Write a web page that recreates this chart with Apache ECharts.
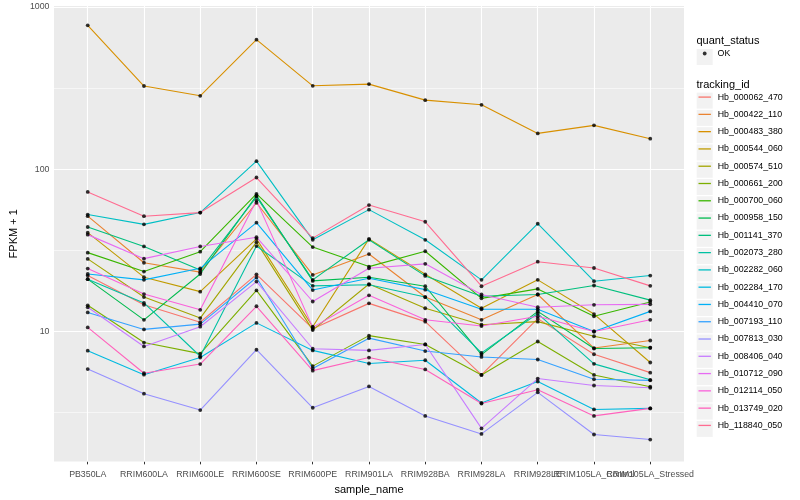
<!DOCTYPE html>
<html>
<head>
<meta charset="utf-8">
<script src="https://cdn.jsdelivr.net/npm/echarts@6/dist/echarts.min.js"></script>
<style>html,body{margin:0;padding:0;background:#fff}#c{width:800px;height:500px}</style>
</head>
<body>
<div id="c"></div>
<script>
// ---------- data ----------
const categories = ['PB350LA','RRIM600LA','RRIM600LE','RRIM600SE','RRIM600PE','RRIM901LA','RRIM928BA','RRIM928LA','RRIM928LE','RRIM105LA_Control','RRIM105LA_Stressed'];
const trackingIds = ['Hb_000062_470','Hb_000422_110','Hb_000483_380','Hb_000544_060','Hb_000574_510','Hb_000661_200','Hb_000700_060','Hb_000958_150','Hb_001141_370','Hb_002073_280','Hb_002282_060','Hb_002284_170','Hb_004410_070','Hb_007193_110','Hb_007813_030','Hb_008406_040','Hb_010712_090','Hb_012114_050','Hb_013749_020','Hb_118840_050'];
const quantStatus = ['OK'];

const hb_000062_470 = [22.1, 14.6, 11.4, 22.5, 10.4, 14.9, 11.5, 5.40, 12.0, 7.24, 5.58];
const hb_000422_110 = [51.3, 26.5, 23.2, 62.1, 22.3, 30.0, 16.3, 11.8, 16.9, 7.91, 8.80];
const hb_000483_380 = [769, 325, 283, 627, 326, 334, 266, 249, 166, 186, 154];
const hb_000544_060 = [40.6, 21.6, 17.6, 37.2, 10.7, 37.2, 22.5, 13.9, 20.8, 12.8, 6.44];
const hb_000574_510 = [28.0, 16.3, 12.1, 35.5, 10.2, 19.6, 13.9, 11.0, 11.5, 9.35, 7.94];
const hb_000661_200 = [14.5, 8.55, 7.31, 17.9, 6.12, 9.43, 8.32, 5.40, 8.68, 5.40, 4.57];
const hb_000700_060 = [30.6, 23.4, 31.0, 70.4, 33.1, 25.1, 31.2, 16.0, 18.3, 12.4, 15.2];
const hb_000958_150 = [21.0, 11.8, 22.6, 68.8, 20.5, 21.6, 19.0, 7.20, 13.3, 7.85, 7.94];
const hb_001141_370 = [44.0, 33.4, 23.9, 67.5, 20.8, 36.7, 22.0, 16.5, 16.9, 19.2, 15.6];
const hb_002073_280 = [21.0, 15.0, 7.04, 33.6, 19.1, 19.4, 16.3, 7.38, 12.9, 6.32, 5.04];
const hb_002282_060 = [52.5, 45.7, 54.0, 112, 36.7, 56.3, 36.7, 20.8, 46.1, 20.4, 22.1];
const hb_002284_170 = [7.62, 5.42, 6.91, 11.3, 7.65, 6.35, 6.65, 3.63, 4.92, 3.31, 3.36];
const hb_004410_070 = [22.6, 20.8, 24.5, 46.8, 18.0, 21.3, 18.1, 13.7, 13.7, 10.0, 13.3];
const hb_007193_110 = [13.1, 10.3, 11.1, 21.5, 5.92, 9.10, 7.58, 6.97, 6.72, 5.08, 5.00];
const hb_007813_030 = [5.87, 4.14, 3.28, 7.72, 3.39, 4.59, 3.02, 2.34, 4.22, 2.32, 2.16];
const hb_008406_040 = [14.1, 8.09, 10.7, 20.3, 7.83, 7.65, 8.32, 2.53, 5.13, 4.65, 4.50];
const hb_010712_090 = [39.5, 28.1, 33.4, 38.1, 15.3, 24.5, 26.1, 16.9, 14.1, 14.6, 14.7];
const hb_012114_050 = [24.4, 17.0, 13.6, 64.0, 10.6, 16.7, 11.8, 10.8, 12.4, 10.0, 11.8];
const hb_013749_020 = [10.6, 5.53, 6.30, 14.3, 5.74, 6.91, 5.84, 3.60, 4.38, 3.02, 3.36];
const hb_118840_050 = [72.4, 51.3, 54.0, 88.8, 37.6, 60.1, 47.4, 19.0, 26.9, 24.6, 19.1];

const seriesValues = [hb_000062_470, hb_000422_110, hb_000483_380, hb_000544_060, hb_000574_510,
  hb_000661_200, hb_000700_060, hb_000958_150, hb_001141_370, hb_002073_280, hb_002282_060,
  hb_002284_170, hb_004410_070, hb_007193_110, hb_007813_030, hb_008406_040, hb_010712_090,
  hb_012114_050, hb_013749_020, hb_118840_050];

const yTickLabels = [10, 100, 1000];
const yMinorBreaks = [3.162, 31.62, 316.2];

// ---------- style ----------
const colors = ['#F8766D','#EA8331','#D89000','#C09B00','#A3A500','#7CAE00','#39B600','#00BB4E','#00BF7D','#00C1A3','#00BFC4','#00BAE0','#00B0F6','#35A2FF','#9590FF','#C77CFF','#E76BF3','#FA62DB','#FF62BC','#FF6C91'];
const FONT = '"Liberation Sans", Arial, Helvetica, sans-serif';
const legendLeft = 696.7, legendTop = 92.6, keySize = 16, keyStep = 17.28, okTop = 49;
const lineIcon = 'path://M0,0M16,0M1.8,0L14.2,0L14.2,1.3L1.8,1.3Z';
const xMin = -0.6, xMax = 10.6;

const chart = echarts.init(document.getElementById('c'), null, {renderer: 'canvas'});

const lineSeries = trackingIds.map((id, i) => ({
  name: id,
  type: 'line',
  data: seriesValues[i].map((v, j) => [j, v]),
  symbol: 'none',
  lineStyle: {color: colors[i], width: 1.1},
  itemStyle: {color: colors[i]},
  z: 3,
  silent: true,
  animation: false
}));

const pointSeries = {
  name: quantStatus[0],
  type: 'scatter',
  data: seriesValues.flatMap(arr => arr.map((v, j) => [j, v])),
  symbol: 'circle',
  symbolSize: 3.8,
  itemStyle: {color: '#000000'},
  z: 4,
  silent: true,
  animation: false
};

const gridLine = (w) => ({color: '#FFFFFF', width: w, type: 'solid'});
const gridSeries = {
  name: '_grid',
  type: 'line',
  data: [],
  silent: true,
  animation: false,
  markLine: {
    silent: true,
    symbol: 'none',
    animation: false,
    z: 1,
    label: {show: false},
    emphasis: {disabled: true},
    data: [
      ...yMinorBreaks.map(v => ({yAxis: v, lineStyle: gridLine(0.55)})),
      ...yTickLabels.map(v => ({yAxis: v, lineStyle: gridLine(1.1)})),
      ...categories.map((c, j) => ({xAxis: j, lineStyle: gridLine(1.1)}))
    ]
  }
};

const keyRects = trackingIds.map((id, i) => ({
  type: 'rect', z: 0, silent: true,
  shape: {x: legendLeft, y: legendTop + i * keyStep, width: keySize, height: keySize},
  style: {fill: '#F2F2F2'}
}));
keyRects.push({
  type: 'rect', z: 0, silent: true,
  shape: {x: legendLeft, y: okTop, width: keySize, height: keySize},
  style: {fill: '#F2F2F2'}
});

const legendText = {fontSize: 8.8, color: '#000', fontFamily: FONT};
const trackingLegends = trackingIds.map((id, i) => ({
  data: [id], orient: 'vertical', padding: 0,
  left: legendLeft, top: legendTop + i * keyStep,
  icon: lineIcon, itemWidth: keySize, itemHeight: keySize, itemGap: 0,
  selectedMode: false, textStyle: legendText
}));
const okLegend = {
  data: quantStatus, orient: 'vertical', padding: 0,
  left: legendLeft + keySize / 2 - 1.9, top: okTop,
  icon: 'circle', itemWidth: 3.8, itemHeight: keySize, itemGap: 0, selectedMode: false,
  textStyle: Object.assign({padding: [0, 0, 0, 6]}, legendText)
};

// label positions: every category, plus a blank guard at the panel edge
const xLabelValues = categories.map((c, j) => j).concat([xMax]);

const option = {
  animation: false,
  backgroundColor: '#FFFFFF',
  textStyle: {fontFamily: FONT},
  title: [
    {text: 'quant_status', left: 696.5, top: 35, padding: 0, textStyle: {fontSize: 11, fontWeight: 'normal', color: '#000', fontFamily: FONT}},
    {text: 'tracking_id', left: 696.5, top: 79, padding: 0, textStyle: {fontSize: 11, fontWeight: 'normal', color: '#000', fontFamily: FONT}}
  ],
  graphic: keyRects,
  legend: [okLegend, ...trackingLegends],
  grid: {left: 45, right: 116, top: 6, bottom: 31, show: true, backgroundColor: '#EBEBEB', borderWidth: 0, containLabel: false},
  xAxis: {
    type: 'value', min: xMin, max: xMax,
    name: 'sample_name', nameLocation: 'middle', nameGap: 13,
    nameTextStyle: {fontSize: 11, color: '#000', fontFamily: FONT},
    axisLine: {show: false},
    splitLine: {show: false},
    axisTick: {show: true, length: 2.75, lineStyle: {color: '#333333', width: 1}, customValues: xLabelValues},
    axisLabel: {
      customValues: xLabelValues, margin: 8.5, hideOverlap: false,
      fontSize: 8.8, color: '#4D4D4D', fontFamily: FONT,
      formatter: v => (Math.abs(v - Math.round(v)) < 1e-6 && categories[Math.round(v)]) ? categories[Math.round(v)] : ' '
    }
  },
  yAxis: {
    type: 'log', logBase: 10, min: 1.58, max: 1011,
    name: 'FPKM + 1', nameLocation: 'middle', nameGap: 28,
    nameTextStyle: {fontSize: 11, color: '#000', fontFamily: FONT},
    axisLine: {show: false},
    splitLine: {show: false},
    minorSplitLine: {show: false},
    axisTick: {show: true, length: 2.75, lineStyle: {color: '#333333', width: 1}, customValues: yTickLabels},
    axisLabel: {
      customValues: yTickLabels, margin: 4.5, showMinLabel: true, showMaxLabel: true,
      fontSize: 8.8, color: '#4D4D4D', fontFamily: FONT,
      formatter: v => String(Math.round(v))
    }
  },
  series: [gridSeries, ...lineSeries, pointSeries]
};
chart.setOption(option);
</script>
</body>
</html>
